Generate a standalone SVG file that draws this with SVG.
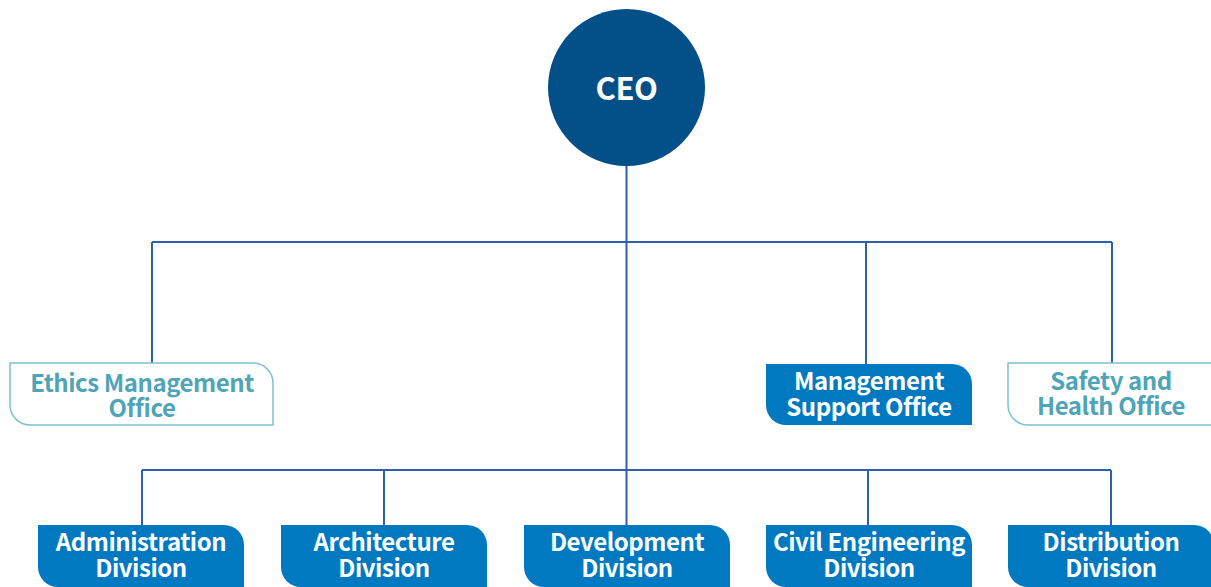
<svg xmlns="http://www.w3.org/2000/svg" width="1211" height="587" viewBox="0 0 1211 587">
<style>
.ln{stroke:#2f5fab;stroke-width:2;fill:none}
.fill{fill:#0079c1}
.out{fill:#fff;stroke:#7fc1d1;stroke-width:1.5}
.t{font-family:"Noto Sans CJK KR","Noto Sans",sans-serif;font-weight:bold;font-size:24px;letter-spacing:-0.45px;text-anchor:middle}
.w{fill:#fff}
.c{fill:#4fa4b7}
</style>
<rect width="1211" height="587" fill="#fff"/>
<g id="connectors">
<path class="ln" d="M626.5,166V470M152,242H1112M152,242V363M866,242V364M1112,242V363M142,470H1111M142,470V525M384,470V525M626.5,470V525M868,470V525M1111,470V525"/>
</g>
<g id="ceo">
<circle cx="626.5" cy="87.5" r="78.5" fill="#034f87"/>
<text class="t w" x="626.5" y="100" style="font-size:31px;letter-spacing:-0.5px">CEO</text>
</g>
<g id="ethics">
<path class="out" d="M10,363H253A20,20 0 0 1 273,383V425H30A20,20 0 0 1 10,405Z"/>
<text class="t c" x="142" y="392">Ethics Management</text>
<text class="t c" x="142" y="417">Office</text>
</g>
<g id="mgmt">
<path class="fill" d="M766,364H952A20,20 0 0 1 972,384V425H786A20,20 0 0 1 766,405Z"/>
<text class="t w" x="869" y="390">Management</text>
<text class="t w" x="869" y="416">Support Office</text>
</g>
<g id="safety">
<path class="out" d="M1008,363H1252A20,20 0 0 1 1272,383V425H1028A20,20 0 0 1 1008,405Z"/>
<text class="t c" x="1111" y="390">Safety and</text>
<text class="t c" x="1111" y="415">Health Office</text>
</g>
<g id="admin">
<path class="fill" d="M38,525H224A20,20 0 0 1 244,545V587H58A20,20 0 0 1 38,567Z"/>
<text class="t w" x="141" y="551">Administration</text>
<text class="t w" x="141" y="577">Division</text>
</g>
<g id="arch">
<path class="fill" d="M281,525H467A20,20 0 0 1 487,545V587H301A20,20 0 0 1 281,567Z"/>
<text class="t w" x="384" y="551">Architecture</text>
<text class="t w" x="384" y="577">Division</text>
</g>
<g id="dev">
<path class="fill" d="M524,525H710A20,20 0 0 1 730,545V587H544A20,20 0 0 1 524,567Z"/>
<text class="t w" x="627" y="551">Development</text>
<text class="t w" x="627" y="577">Division</text>
</g>
<g id="civil">
<path class="fill" d="M766,525H952A20,20 0 0 1 972,545V587H786A20,20 0 0 1 766,567Z"/>
<text class="t w" x="869" y="551">Civil Engineering</text>
<text class="t w" x="869" y="577">Division</text>
</g>
<g id="dist">
<path class="fill" d="M1008,525H1194A20,20 0 0 1 1214,545V587H1028A20,20 0 0 1 1008,567Z"/>
<text class="t w" x="1111" y="551">Distribution</text>
<text class="t w" x="1111" y="577">Division</text>
</g>
</svg>
